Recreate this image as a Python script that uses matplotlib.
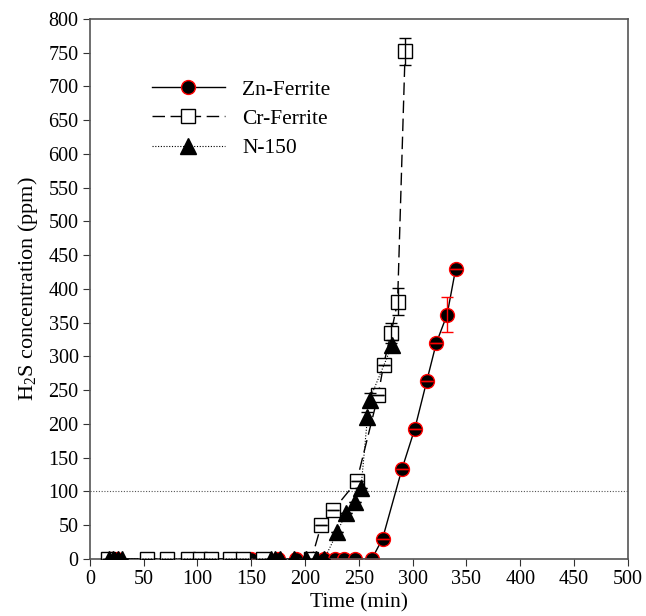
import numpy as np
import matplotlib
matplotlib.use("Agg")
import matplotlib.pyplot as plt

plt.rcParams["font.family"] = ["Liberation Serif", "DejaVu Serif"]
plt.rcParams["mathtext.fontset"] = "custom"
plt.rcParams["mathtext.rm"] = "Liberation Serif"

# Zn-Ferrite
zn_t = [20, 25, 150, 175, 192, 206, 218, 228, 236, 246, 262, 272, 290, 302, 313, 322, 332, 340]
zn_c = [0, 0, 0, 0, 0, 0, 0, 0, 0, 0, 0, 30, 133, 193, 263, 320, 362, 430]
zn_err = [0, 0, 0, 0, 0, 0, 0, 0, 0, 0, 0, 0, 0, 0, 0, 0, 26, 0]

# Cr-Ferrite
cr_t = [17, 53, 72, 91, 102, 113, 130, 142, 161, 206, 215, 226, 248, 268, 273, 280, 286, 293]
cr_c = [0, 0, 0, 0, 0, 0, 0, 0, 0, 0, 50, 72, 115, 243, 288, 335, 381, 752]
cr_err = [0, 0, 0, 0, 0, 0, 0, 0, 0, 0, 0, 0, 0, 0, 0, 15, 20, 20]

# N-150
n_t = [18, 22, 26, 30, 168, 172, 177, 190, 201, 210, 218, 230, 238, 246, 252, 258, 260, 281]
n_c = [0, 0, 0, 0, 0, 0, 0, 0, 0, 0, 0, 40, 68, 85, 105, 210, 236, 317]
n_err = [0, 0, 0, 0, 0, 0, 0, 0, 0, 0, 0, 0, 0, 0, 0, 8, 10, 8]

fig = plt.figure(figsize=(6.46, 6.16), dpi=100)
ax = fig.add_axes([0.139, 0.0925, 0.833, 0.877])

ax.axhline(100, color="#555555", lw=0.8, ls=(0, (1, 1.5)), zorder=1)

# Zn at the bottom, then Cr, N-150 on top
zn_line, = ax.plot(zn_t, zn_c, color="black", ls="-", lw=1.0, marker="o", ms=10,
                   mfc="black", mec="red", mew=1.0, label="Zn-Ferrite", zorder=2)
ax.errorbar(zn_t, zn_c, yerr=zn_err, fmt="none", ecolor="red", elinewidth=1.0,
            capsize=4, zorder=2)

cr_line, = ax.plot(cr_t, cr_c, color="black", ls=(0, (9, 4)), lw=1.0, marker="s",
                   ms=10.5, mfc="white", mec="black", mew=1.0, label="Cr-Ferrite", zorder=3)
ax.errorbar(cr_t, cr_c, yerr=cr_err, fmt="none", ecolor="black", elinewidth=1.0,
            capsize=4, zorder=3)

n_line, = ax.plot(n_t, n_c, color="black", ls=(0, (1, 1.5)), lw=0.8, marker="^",
                  ms=11, mfc="black", mec="black", label="N-150", zorder=4)
ax.errorbar(n_t, n_c, yerr=n_err, fmt="none", ecolor="black", elinewidth=0.8,
            capsize=4, zorder=4)

ax.set_xlim(0, 500)
ax.set_ylim(0, 800)
ax.set_xticks(np.arange(0, 501, 50))
ax.set_yticks(np.arange(0, 801, 50))
ax.tick_params(direction="out", length=5, labelsize=14.5, color="#333333", pad=3)
for s in ax.spines.values():
    s.set_color("#555555")
    s.set_linewidth(1.2)

ax.set_xlabel("Time (min)", fontsize=15.5, labelpad=3)
ax.set_ylabel("H$_2$S concentration (ppm)", fontsize=16, labelpad=6)

ax.legend([zn_line, cr_line, n_line], ["Zn-Ferrite", "Cr-Ferrite", "N-150"],
          loc="upper left", bbox_to_anchor=(0.115, 0.887), frameon=False,
          borderaxespad=0, borderpad=0, fontsize=15.5, handlelength=3.4,
          handletextpad=0.8, labelspacing=0.42)

fig.savefig("out.png", dpi=100)
